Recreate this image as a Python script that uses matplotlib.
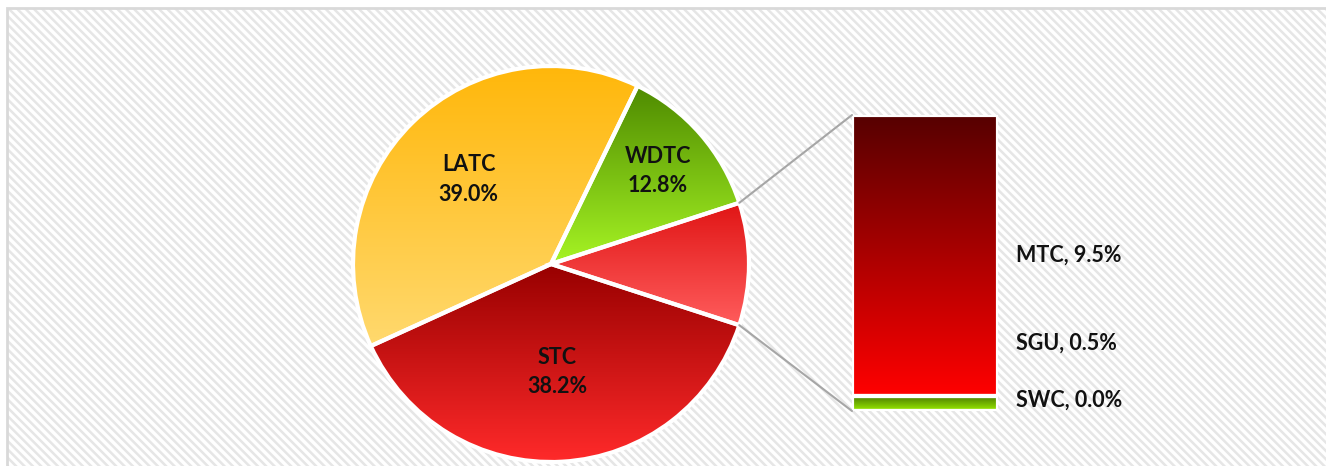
import numpy as np
import matplotlib.pyplot as plt
from matplotlib.patches import Rectangle, ConnectionPatch
from matplotlib.colors import LinearSegmentedColormap

plt.rcParams['font.family'] = ['Lato', 'DejaVu Sans']
plt.rcParams['hatch.linewidth'] = 1.8

# main pie (first slice is the group split out into the bar)
pie_labels = ['Other', 'WDTC', 'LATC', 'STC']
pie_values = [10.0, 12.8, 39.0, 38.2]
pie_top = ['#E01515', '#4E8A00', '#FFB70A', '#980000']
pie_bottom = ['#FF5C5C', '#A6F424', '#FFD96E', '#FF2A2A']

# breakdown of the split slice, bottom to top
bar_labels = ['SWC', 'SGU', 'MTC']
bar_values = [0.0, 0.5, 9.5]
bar_top = ['#4A7A00', '#4A7A00', '#560000']
bar_bottom = ['#9CF000', '#9CF000', '#FF0000']


def fill_gradient(ax, patch, top, bottom, extent):
    cmap = LinearSegmentedColormap.from_list('g', [bottom, top])
    grad = np.linspace(0, 1, 256).reshape(-1, 1)
    im = ax.imshow(grad, cmap=cmap, origin='lower', extent=extent,
                   aspect='auto', interpolation='bicubic', zorder=1)
    im.set_clip_path(patch)


W, H = 1326, 466
fig = plt.figure(figsize=(W / 100, H / 100), dpi=100)
fig.patch.set_facecolor('white')

# hatched chart area
fig.add_artist(Rectangle((7 / W, -0.1), 1.2, 1.1 - 8 / H, transform=fig.transFigure,
                         facecolor='white', edgecolor='#E6E6E6', linewidth=0,
                         hatch='\\\\\\\\', zorder=0))
fig.add_artist(Rectangle((7 / W, -0.1), 1.2, 1.1 - 8 / H, transform=fig.transFigure,
                         facecolor='none', edgecolor='#D9D9D9', linewidth=2, zorder=0))

# pie
ax = fig.add_axes([351 / W, 2 / H, 400 / W, 400 / H])
half = 360 * pie_values[0] / sum(pie_values) / 2
wedges, _ = ax.pie(pie_values, startangle=-half, counterclock=True, radius=0.99,
                   wedgeprops=dict(facecolor='none', edgecolor='white', linewidth=3))
label_r = [None, 0.71, 0.59, 0.54]
for w, name, val, t, b, r in zip(wedges, pie_labels, pie_values, pie_top, pie_bottom, label_r):
    w.set_zorder(3)
    ext = w.get_path().get_extents()
    fill_gradient(ax, w, t, b, (ext.x0, ext.x1, ext.y0, ext.y1))
    if r is None:
        continue
    ang = np.deg2rad((w.theta1 + w.theta2) / 2)
    ax.text(r * np.cos(ang), r * np.sin(ang), f'{name}\n{val:.1f}%', ha='center', va='center',
            fontsize=15.5, fontweight='bold', color='#111111', linespacing=1.5, zorder=4)
ax.set_xlim(-1, 1)
ax.set_ylim(-1, 1)
ax.set_aspect('equal')
ax.axis('off')

# stacked bar
ax2 = fig.add_axes([852 / W, 55 / H, 146 / W, 296 / H])
bottoms = np.concatenate([[0], np.cumsum(bar_values)[:-1]])
bars = ax2.bar(0, bar_values, bottom=bottoms, width=1, facecolor='none',
               edgecolor='white', linewidth=3, zorder=3)
label_y = {'SWC': 0.37, 'SGU': 2.3}
for rect, name, val, b0, t, b in zip(bars, bar_labels, bar_values, bottoms, bar_top, bar_bottom):
    if val > 0:
        fill_gradient(ax2, rect, t, b, (-0.5, 0.5, b0, b0 + val))
    y = label_y.get(name, b0 + val / 2)
    ax2.annotate(f'{name}, {val:.1f}%', xy=(0.5, y), xytext=(13, 0), textcoords='offset points',
                 ha='left', va='center', fontsize=15.5, fontweight='bold', color='#111111')
ax2.set_xlim(-0.5, 0.5)
ax2.set_ylim(0, sum(bar_values))
ax2.axis('off')

# connector lines
r = 0.99
for sign, yb in [(1, sum(bar_values)), (-1, 0)]:
    a = np.deg2rad(sign * half)
    fig.add_artist(ConnectionPatch(xyA=(r * np.cos(a), r * np.sin(a)), coordsA=ax.transData,
                                   xyB=(-0.5, yb), coordsB=ax2.transData,
                                   color='#A6A6A6', linewidth=1.5, zorder=2))

fig.savefig('out.png', dpi=100)
